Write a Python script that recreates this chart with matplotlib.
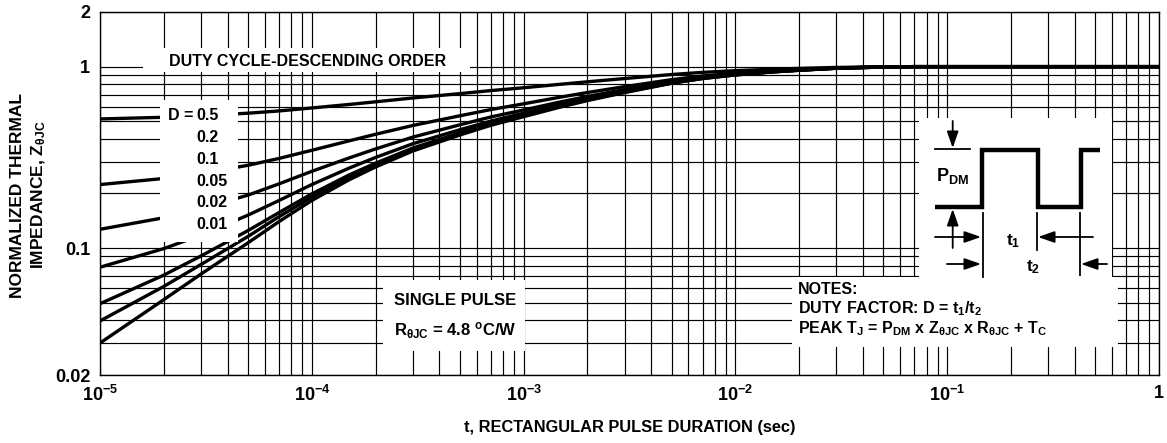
import matplotlib
matplotlib.use("Agg")
import matplotlib.pyplot as plt
from matplotlib.patches import Rectangle
from matplotlib.transforms import Affine2D

plt.rcParams["font.family"] = ["Liberation Sans", "DejaVu Sans"]
plt.rcParams["font.weight"] = "bold"
plt.rcParams["axes.labelweight"] = "bold"
plt.rcParams["mathtext.fontset"] = "custom"
plt.rcParams["mathtext.rm"] = "Liberation Sans:bold"
plt.rcParams["mathtext.bf"] = "Liberation Sans:bold"
plt.rcParams["mathtext.it"] = "Liberation Sans:bold"
plt.rcParams["mathtext.sf"] = "Liberation Sans"

W, H = 1167, 443

# values (t in seconds, normalized Z)
t_sec = [1e-5, 2e-5, 3e-5, 5e-5, 7e-5, 1e-4, 1.5e-4, 2e-4, 3e-4, 5e-4,
         7e-4, 1e-3, 1.5e-3, 2e-3, 3e-3, 5e-3, 7e-3, 1e-2, 1.5e-2, 2e-2,
         3e-2, 5e-2, 7e-2, 1e-1, 1.0]
z_d50 = [0.515, 0.526, 0.536, 0.554, 0.570, 0.592, 0.619, 0.640, 0.672, 0.710,
         0.738, 0.765, 0.800, 0.825, 0.860, 0.905, 0.930, 0.950, 0.968, 0.978,
         0.990, 0.998, 1.0, 1.0, 1.0]
z_d20 = [0.224, 0.242, 0.258, 0.286, 0.312, 0.346, 0.390, 0.424, 0.474, 0.536,
         0.580, 0.624, 0.680, 0.720, 0.776, 0.848, 0.888, 0.920, 0.948, 0.964,
         0.984, 0.996, 1.0, 1.0, 1.0]
z_d10 = [0.127, 0.147, 0.165, 0.196, 0.226, 0.265, 0.314, 0.352, 0.409, 0.478,
         0.528, 0.577, 0.640, 0.685, 0.748, 0.829, 0.874, 0.910, 0.942, 0.960,
         0.982, 0.996, 1.0, 1.0, 1.0]
z_d05 = [0.0785, 0.0994, 0.118, 0.152, 0.183, 0.224, 0.276, 0.316, 0.376, 0.449,
         0.501, 0.554, 0.620, 0.668, 0.734, 0.820, 0.867, 0.905, 0.938, 0.957,
         0.981, 0.995, 1.0, 1.0, 1.0]
z_d02 = [0.0494, 0.071, 0.0906, 0.125, 0.157, 0.199, 0.253, 0.294, 0.356, 0.432,
         0.486, 0.539, 0.608, 0.657, 0.726, 0.814, 0.863, 0.902, 0.936, 0.956,
         0.980, 0.995, 1.0, 1.0, 1.0]
z_d01 = [0.0397, 0.0615, 0.0813, 0.116, 0.149, 0.191, 0.246, 0.287, 0.350, 0.426,
         0.480, 0.535, 0.604, 0.654, 0.723, 0.812, 0.861, 0.901, 0.936, 0.955,
         0.980, 0.995, 1.0, 1.0, 1.0]
z_single = [0.030, 0.052, 0.072, 0.107, 0.140, 0.183, 0.238, 0.280, 0.343, 0.420,
            0.475, 0.530, 0.600, 0.650, 0.720, 0.810, 0.860, 0.900, 0.935, 0.955,
            0.980, 0.995, 1.0, 1.0, 1.0]
curves = [z_d50, z_d20, z_d10, z_d05, z_d02, z_d01, z_single]
duty_labels = ["0.5", "0.2", "0.1", "0.05", "0.02", "0.01"]

x_major = [1e-5, 1e-4, 1e-3, 1e-2, 1e-1, 1.0]
x_major_labels = [r"$10^{-5}$", r"$10^{-4}$", r"$10^{-3}$", r"$10^{-2}$", r"$10^{-1}$", "1"]
y_major = [0.02, 0.1, 1.0, 2.0]
y_major_labels = ["0.02", "0.1", "1", "2"]
y_minor = [0.03, 0.04, 0.05, 0.06, 0.07, 0.08, 0.09,
           0.2, 0.3, 0.4, 0.5, 0.6, 0.7, 0.8, 0.9]

fig = plt.figure(figsize=(W / 100, H / 100), dpi=100)
ax = fig.add_axes([100 / W, 1 - 375 / H, 1059 / W, 363 / H])
# pixel coordinates of the figure, y pointing down
pxt = Affine2D().scale(1 / W, -1 / H).translate(0, 1) + fig.transFigure

for z in curves:
    ax.plot(t_sec, z, color="black", lw=2.4, solid_capstyle="butt",
            solid_joinstyle="round", zorder=3)

ax.set_xscale("log")
ax.set_yscale("log")
ax.set_xlim(1e-5, 1)
ax.set_ylim(0.02, 2)
ax.set_xticks(x_major, x_major_labels, fontsize=13)
ax.set_xticks([m * 10.0 ** e for e in range(-5, 0) for m in range(2, 10)], minor=True)
ax.set_yticks(y_major, y_major_labels, fontsize=13)
ax.set_yticks(y_minor, minor=True)
ax.xaxis.set_minor_formatter(plt.NullFormatter())
ax.yaxis.set_minor_formatter(plt.NullFormatter())
ax.tick_params(which="both", length=0)
ax.tick_params(axis="x", pad=7)
ax.tick_params(axis="y", pad=7)
ax.grid(which="both", color="black", lw=0.85)
for s in ax.spines.values():
    s.set_linewidth(1.0)

ax.set_xlabel("t, RECTANGULAR PULSE DURATION (sec)", fontsize=11.8,
              fontweight="bold", labelpad=11)
fig.text(29 / W, 1 - 195 / H, "NORMALIZED THERMAL\nIMPEDANCE, Z$_{\\mathrm{θJC}}$",
         rotation=90, ha="center", va="center", multialignment="center",
         fontsize=12.5, linespacing=1.3)


def white_box(x0, y0, x1, y1):
    ax.add_patch(Rectangle((x0, y0), x1 - x0, y1 - y0, transform=pxt,
                           facecolor="white", edgecolor="none", zorder=4, clip_on=False))


def label(x, y, s, **kw):
    kw.setdefault("fontsize", 11.5)
    kw.setdefault("va", "center")
    ax.text(x, y, s, transform=pxt, zorder=5, **kw)


white_box(143, 48, 470, 72)
white_box(160, 100, 238, 242)
white_box(383, 280, 525, 351)
white_box(919, 118, 1112, 277)
white_box(792, 277, 1118, 347)

label(308, 61, "DUTY CYCLE-DESCENDING ORDER", ha="center")
label(193, 115, "D =", ha="right")
for i, d in enumerate(duty_labels):
    label(196, 115 + 22 * i, d, ha="left")

label(394, 301, "SINGLE PULSE", ha="left", fontsize=12)
label(394, 331, "R$_{\\mathrm{θJC}}$ = 4.8 $^{\\mathrm{o}}$C/W", ha="left", fontsize=12)

label(798, 290, "NOTES:", ha="left")
label(798, 309, "DUTY FACTOR: D = t$_1$/t$_2$", ha="left")
label(798, 329, "PEAK T$_J$ = P$_{\\mathrm{DM}}$ x Z$_{\\mathsf{θJC}}$ x R$_{\\mathsf{θJC}}$ + T$_C$",
      ha="left")

# pulse train sketch
pulse_x = [935, 982, 982, 1038, 1038, 1081, 1081, 1100]
pulse_y = [207, 207, 150, 150, 207, 207, 150, 150]
ax.plot(pulse_x, pulse_y, transform=pxt, color="black", lw=3.2,
        solid_joinstyle="miter", solid_capstyle="butt", clip_on=False, zorder=6)
for xs, ys in [([935, 970], [149, 149]),
               ([982.5, 982.5], [213, 277]),
               ([1037, 1037], [213, 250]),
               ([1080, 1080], [213, 275])]:
    ax.plot(xs, ys, transform=pxt, color="black", lw=1.3, clip_on=False, zorder=6)

arrow = dict(arrowstyle="-|>,head_length=1.0,head_width=0.35", color="black",
             lw=1.3, shrinkA=0, shrinkB=0, mutation_scale=10)
for start, end in [((952.7, 121), (952.7, 148)),
                   ((952.7, 248), (952.7, 209)),
                   ((935, 237), (981, 237)),
                   ((1093, 237), (1038, 237)),
                   ((947, 264), (981, 264)),
                   ((1107, 264), (1081, 264))]:
    ax.annotate("", xy=end, xytext=start, xycoords=pxt, textcoords=pxt,
                arrowprops=arrow, zorder=6, annotation_clip=False)

label(936, 176, "P$_{\\mathrm{DM}}$", ha="left", fontsize=13)
label(1006, 241, "t$_1$", ha="left", fontsize=12.5)
label(1026, 267, "t$_2$", ha="left", fontsize=12.5)

fig.savefig("out.png", dpi=100)
